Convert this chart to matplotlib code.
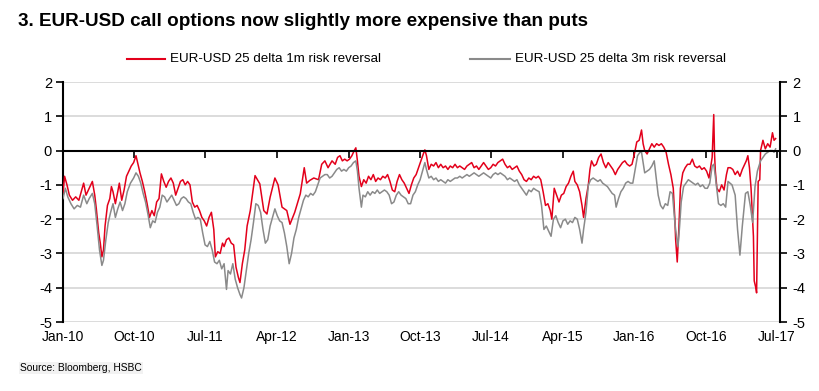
import matplotlib
matplotlib.use("Agg")
import matplotlib.pyplot as plt
import numpy as np
import pandas as pd

# ---- data: (months since Jan 2010, value) ----
rr1m_points = [
    (0.0, -1.25), (0.2, -0.75), (0.5, -1.0), (0.8, -1.3), (1.2, -1.45), (1.6, -1.35), (2.0, -1.45), (2.3, -1.2),
    (2.6, -0.95), (2.9, -1.3), (3.2, -1.15), (3.5, -1.0), (3.7, -0.9), (4.0, -1.3), (4.2, -1.7), (4.5, -2.4),
    (4.7, -2.7), (4.9, -3.1), (5.1, -2.9), (5.3, -2.2), (5.6, -1.6), (5.9, -1.4), (6.1, -1.05), (6.3, -1.2),
    (6.6, -1.55), (6.9, -1.2), (7.1, -0.95), (7.4, -1.45), (7.7, -1.15), (8.0, -0.75), (8.3, -0.6), (8.6, -0.45),
    (8.9, -0.35), (9.2, -0.15), (9.4, -0.35), (9.7, -0.65), (10.0, -0.9), (10.3, -1.2), (10.6, -1.55),
    (10.9, -1.95), (11.2, -1.75), (11.5, -1.9), (11.8, -1.5), (12.1, -1.4), (12.4, -0.68), (12.7, -0.9),
    (13.0, -1.07), (13.3, -0.9), (13.6, -0.8), (13.9, -0.95), (14.2, -1.3), (14.5, -1.1), (14.8, -0.9),
    (15.1, -0.85), (15.4, -1.0), (15.7, -0.9), (16.0, -1.0), (16.3, -1.5), (16.6, -1.65), (16.9, -1.6),
    (17.2, -1.75), (17.5, -1.95), (17.8, -2.05), (18.1, -2.2), (18.4, -1.95), (18.7, -1.8), (19.0, -2.3),
    (19.2, -3.1), (19.5, -2.95), (19.8, -3.0), (20.1, -2.7), (20.3, -2.8), (20.6, -2.6), (20.9, -2.55),
    (21.2, -2.7), (21.5, -2.75), (21.8, -3.4), (22.1, -3.7), (22.3, -3.85), (22.6, -3.3), (22.9, -2.9),
    (23.2, -2.2), (23.6, -1.75), (24.2, -0.73), (24.8, -0.97), (25.3, -1.75), (25.7, -1.85), (26.1, -1.36),
    (26.7, -0.8), (27.1, -1.0), (27.6, -1.65), (28.2, -1.75), (28.6, -2.15), (29.2, -1.8), (29.9, -1.26),
    (30.4, -0.5), (30.7, -0.95), (31.1, -0.87), (31.6, -0.8), (32.2, -0.85), (32.6, -0.4), (33.0, -0.3),
    (33.4, -0.5), (33.9, -0.3), (34.3, -0.4), (34.6, -0.2), (34.9, -0.15), (35.2, -0.3), (35.5, -0.25),
    (35.8, -0.3), (36.1, -0.25), (36.4, -0.15), (36.7, 0.0), (36.9, 0.08), (37.1, -0.3), (37.3, -0.75),
    (37.6, -1.05), (37.9, -0.85), (38.2, -0.95), (38.5, -0.75), (38.8, -0.85), (39.1, -0.7), (39.4, -0.9),
    (39.7, -0.8), (40.0, -0.85), (40.3, -0.75), (40.6, -0.8), (40.9, -0.7), (41.2, -0.9), (41.5, -1.15),
    (41.8, -1.2), (42.1, -0.9), (42.4, -0.7), (42.7, -0.85), (43.0, -0.95), (43.3, -1.1), (43.6, -1.25),
    (43.9, -1.0), (44.2, -0.8), (44.5, -0.7), (44.8, -0.5), (45.1, -0.3), (45.4, -0.1), (45.6, 0.02),
    (45.8, -0.15), (46.1, -0.55), (46.4, -0.4), (46.7, -0.45), (47.0, -0.35), (47.3, -0.5), (47.6, -0.4),
    (47.9, -0.5), (48.2, -0.45), (48.5, -0.55), (48.8, -0.45), (49.1, -0.5), (49.4, -0.4), (49.7, -0.5),
    (50.0, -0.45), (50.3, -0.5), (50.6, -0.55), (50.9, -0.45), (51.2, -0.4), (51.5, -0.35), (51.8, -0.5),
    (52.1, -0.45), (52.4, -0.55), (52.7, -0.45), (53.0, -0.35), (53.3, -0.45), (53.6, -0.55), (53.9, -0.5),
    (54.2, -0.4), (54.5, -0.45), (54.8, -0.35), (55.1, -0.3), (55.4, -0.25), (55.7, -0.4), (56.0, -0.5),
    (56.3, -0.45), (56.6, -0.55), (56.9, -0.5), (57.2, -0.45), (57.5, -0.6), (57.8, -0.7), (58.1, -0.85),
    (58.4, -0.9), (58.7, -0.8), (59.0, -0.85), (59.3, -0.75), (59.6, -0.8), (59.9, -0.75), (60.2, -0.85),
    (60.5, -1.2), (60.8, -1.6), (61.1, -1.55), (61.4, -1.75), (61.6, -2.0), (61.9, -1.1), (62.2, -1.3),
    (62.5, -1.5), (62.8, -1.3), (63.1, -1.25), (63.4, -1.05), (63.7, -0.95), (64.0, -0.75), (64.3, -0.6),
    (64.5, -0.9), (64.8, -1.0), (65.1, -1.2), (65.4, -1.6), (65.6, -1.95), (65.9, -1.4), (66.2, -1.0),
    (66.4, -0.55), (66.6, -0.3), (66.9, -0.45), (67.2, -0.4), (67.5, -0.2), (67.8, -0.1), (68.1, -0.35),
    (68.4, -0.5), (68.7, -0.35), (69.0, -0.45), (69.3, -0.55), (69.6, -0.7), (69.9, -0.55), (70.2, -0.45),
    (70.5, -0.35), (70.8, -0.3), (71.1, -0.4), (71.4, -0.45), (71.7, -0.4), (72.0, -0.1), (72.3, 0.25),
    (72.6, 0.3), (72.9, 0.6), (73.1, 0.2), (73.3, 0.0), (73.6, -0.1), (73.9, 0.05), (74.2, 0.2), (74.5, 0.1),
    (74.8, 0.2), (75.1, 0.15), (75.4, 0.2), (75.7, 0.1), (76.0, -0.05), (76.3, -0.4), (76.6, -0.7),
    (76.9, -1.1), (77.1, -2.0), (77.2, -2.6), (77.4, -3.25), (77.6, -2.3), (77.8, -1.1), (78.1, -0.65),
    (78.4, -0.5), (78.7, -0.4), (79.0, -0.4), (79.3, -0.25), (79.6, -0.45), (79.9, -0.5), (80.2, -0.45),
    (80.5, -0.55), (80.8, -0.5), (81.1, -0.6), (81.4, -0.8), (81.8, -0.2), (82.0, 1.05), (82.1, -0.1),
    (82.2, -0.6), (82.4, -1.1), (82.7, -1.2), (83.0, -1.0), (83.3, -1.15), (83.6, -0.7), (83.8, -0.5),
    (84.1, -0.5), (84.4, -0.55), (84.7, -0.7), (85.0, -0.6), (85.3, -0.75), (85.6, -0.55), (85.9, -0.4),
    (86.1, -0.3), (86.3, -0.15), (86.5, -0.5), (86.7, -1.1), (87.0, -2.5), (87.1, -3.8), (87.3, -4.0),
    (87.4, -4.15), (87.6, -0.9), (87.8, -0.85), (87.9, 0.0), (88.2, 0.3), (88.5, 0.05), (88.8, 0.2),
    (89.1, 0.1), (89.4, 0.52), (89.6, 0.3), (89.8, 0.35),
]

rr3m_points = [
    (0.0, -1.4), (0.3, -1.1), (0.6, -1.35), (1.0, -1.55), (1.4, -1.7), (1.8, -1.6), (2.2, -1.65), (2.6, -1.3),
    (3.0, -1.55), (3.3, -1.4), (3.7, -1.25), (4.0, -1.55), (4.3, -2.2), (4.6, -2.9), (4.9, -3.35), (5.1, -3.2),
    (5.4, -2.6), (5.7, -2.1), (6.0, -1.8), (6.3, -1.55), (6.6, -1.95), (6.9, -1.7), (7.2, -1.5), (7.5, -1.75),
    (7.8, -1.55), (8.1, -1.2), (8.5, -0.95), (8.9, -0.8), (9.2, -0.65), (9.5, -0.75), (9.8, -0.95),
    (10.1, -1.25), (10.4, -1.5), (10.7, -1.85), (11.0, -2.25), (11.3, -2.05), (11.6, -2.1), (11.9, -1.8),
    (12.2, -1.65), (12.5, -1.3), (12.8, -1.35), (13.1, -1.5), (13.4, -1.4), (13.7, -1.3), (14.0, -1.45),
    (14.3, -1.6), (14.6, -1.55), (14.9, -1.4), (15.2, -1.35), (15.5, -1.4), (15.8, -1.5), (16.1, -1.55),
    (16.4, -1.8), (16.7, -2.0), (17.0, -1.95), (17.3, -2.0), (17.6, -2.4), (17.9, -2.75), (18.2, -2.8),
    (18.5, -2.65), (18.8, -2.9), (19.1, -3.25), (19.4, -3.3), (19.7, -3.2), (20.0, -3.45), (20.3, -3.3),
    (20.6, -4.05), (20.8, -3.5), (21.1, -3.6), (21.4, -3.3), (21.7, -3.75), (22.0, -4.0), (22.3, -4.2),
    (22.5, -4.3), (22.8, -4.0), (23.1, -3.5), (23.4, -3.0), (23.7, -2.6), (24.0, -2.1), (24.3, -1.55),
    (24.6, -1.6), (24.9, -1.8), (25.2, -2.3), (25.5, -2.7), (25.8, -2.6), (26.1, -2.2), (26.4, -1.95),
    (26.7, -1.7), (27.0, -1.9), (27.3, -2.05), (27.6, -2.1), (27.9, -2.4), (28.2, -2.8), (28.5, -3.3),
    (28.8, -3.0), (29.1, -2.55), (29.4, -2.3), (29.7, -1.95), (30.0, -1.7), (30.3, -1.45), (30.6, -1.3),
    (30.9, -1.35), (31.2, -1.25), (31.5, -1.3), (31.8, -1.2), (32.1, -1.0), (32.4, -0.8), (32.7, -0.75),
    (33.0, -0.7), (33.3, -0.7), (33.6, -0.8), (33.9, -0.75), (34.2, -0.65), (34.5, -0.55), (34.8, -0.5),
    (35.1, -0.6), (35.4, -0.55), (35.7, -0.6), (36.0, -0.5), (36.3, -0.45), (36.6, -0.35), (36.9, -0.3),
    (37.1, -0.6), (37.3, -1.1), (37.6, -1.65), (37.8, -1.3), (38.1, -1.35), (38.4, -1.2), (38.7, -1.3),
    (39.0, -1.2), (39.3, -1.25), (39.6, -1.15), (39.9, -1.25), (40.2, -1.2), (40.5, -1.15), (40.8, -1.2),
    (41.1, -1.3), (41.4, -1.55), (41.7, -1.5), (42.0, -1.3), (42.3, -1.2), (42.6, -1.3), (42.9, -1.35),
    (43.2, -1.4), (43.5, -1.55), (43.8, -1.55), (44.1, -1.3), (44.4, -1.2), (44.7, -1.0), (45.0, -0.85),
    (45.3, -0.6), (45.6, -0.35), (45.8, -0.55), (46.1, -0.8), (46.4, -0.75), (46.7, -0.85), (47.0, -0.8),
    (47.3, -0.9), (47.6, -0.85), (47.9, -0.9), (48.2, -0.95), (48.5, -0.85), (48.8, -0.9), (49.1, -0.85),
    (49.4, -0.8), (49.7, -0.8), (50.0, -0.75), (50.3, -0.8), (50.6, -0.75), (50.9, -0.7), (51.2, -0.75),
    (51.5, -0.7), (51.8, -0.65), (52.1, -0.7), (52.4, -0.75), (52.7, -0.7), (53.0, -0.65), (53.3, -0.7),
    (53.6, -0.75), (53.9, -0.8), (54.2, -0.7), (54.5, -0.65), (54.8, -0.7), (55.1, -0.65), (55.4, -0.7),
    (55.7, -0.75), (56.0, -0.85), (56.3, -0.8), (56.6, -0.85), (56.9, -0.9), (57.2, -0.85), (57.5, -1.0),
    (57.8, -1.1), (58.1, -1.2), (58.4, -1.3), (58.7, -1.15), (59.0, -1.2), (59.3, -1.1), (59.6, -1.15),
    (60.0, -1.2), (60.3, -1.6), (60.6, -2.3), (60.9, -2.2), (61.2, -2.35), (61.5, -2.5), (61.8, -2.0),
    (62.1, -1.9), (62.4, -2.1), (62.7, -2.25), (63.0, -2.05), (63.3, -2.0), (63.6, -2.15), (63.9, -2.05),
    (64.2, -2.1), (64.5, -1.95), (64.8, -2.0), (65.1, -2.3), (65.4, -2.7), (65.6, -2.3), (65.9, -1.8),
    (66.2, -1.0), (66.5, -0.85), (66.8, -0.8), (67.1, -0.85), (67.4, -0.9), (67.7, -0.85), (68.0, -0.95),
    (68.3, -1.0), (68.6, -1.05), (68.9, -1.15), (69.2, -1.25), (69.5, -1.3), (69.7, -1.65), (70.0, -1.4),
    (70.3, -1.2), (70.6, -1.1), (70.9, -0.95), (71.2, -0.9), (71.5, -0.95), (71.8, -0.95), (72.1, -0.55),
    (72.4, -0.15), (72.7, -0.05), (72.9, -0.05), (73.1, -0.35), (73.3, -0.65), (73.6, -0.6), (73.9, -0.55),
    (74.2, -0.45), (74.5, -0.3), (74.8, -0.9), (75.0, -1.3), (75.3, -1.6), (75.6, -1.7), (75.9, -1.55),
    (76.2, -1.6), (76.5, -1.2), (76.8, -1.25), (77.1, -2.1), (77.3, -2.5), (77.5, -2.8), (77.7, -2.2),
    (77.9, -1.5), (78.2, -1.05), (78.5, -0.95), (78.8, -0.85), (79.1, -0.9), (79.4, -0.95), (79.7, -1.0),
    (80.0, -0.95), (80.3, -1.05), (80.6, -1.0), (80.9, -1.1), (81.2, -1.1), (81.5, -0.95), (81.8, -0.45),
    (82.0, -0.4), (82.2, -0.75), (82.6, -1.55), (82.9, -1.6), (83.2, -1.55), (83.5, -1.65), (83.8, -0.9),
    (84.3, -1.0), (84.7, -1.3), (85.0, -2.3), (85.3, -3.05), (85.6, -2.2), (86.0, -1.25), (86.3, -1.2),
    (86.6, -1.6), (86.9, -2.1), (87.2, -1.05), (87.5, -0.6), (87.9, -0.3), (88.2, -0.2), (88.5, -0.1),
    (88.8, -0.05), (89.1, 0.0), (89.4, 0.0), (89.6, -0.05), (89.8, 0.05),
]

tick_labels = ["Jan-10", "Oct-10", "Jul-11", "Apr-12", "Jan-13", "Oct-13", "Jul-14", "Apr-15", "Jan-16", "Oct-16", "Jul-17"]
y_ticks = [-5, -4, -3, -2, -1, 0, 1, 2]
title = "3. EUR-USD call options now slightly more expensive than puts"
label_1m = "EUR-USD 25 delta 1m risk reversal"
label_3m = "EUR-USD 25 delta 3m risk reversal"
source = "Source: Bloomberg, HSBC"

# ---- helpers ----
start = pd.Timestamp("2010-01-01")
def to_series(points):
    m = np.array([p[0] for p in points])
    v = np.array([p[1] for p in points])
    return start + pd.to_timedelta(m * 30.4375, unit="D"), v

d1, v1 = to_series(rr1m_points)
d3, v3 = to_series(rr3m_points)
tick_dates = pd.to_datetime(tick_labels, format="%b-%y")

plt.rcParams['font.family'] = ['Liberation Sans', 'DejaVu Sans']
plt.rcParams['axes.unicode_minus'] = False

RED = "#e3001b"
GREY = "#8a8a8a"

fig = plt.figure(figsize=(8.2, 3.91), dpi=100)
ax = fig.add_axes([63/820, 69/391, 717/820, 240/391])

ax.plot(d1, v1, color=RED, lw=1.1, zorder=3)
ax.plot(d3, v3, color=GREY, lw=1.1, zorder=4)

ymin, ymax = -5, 2
ax.set_ylim(ymin, ymax)
ax.set_xlim(tick_dates[0], tick_dates[-1] + pd.Timedelta(days=12))
ax.set_yticks(y_ticks)
for y in y_ticks:
    if y != 0:
        ax.axhline(y, color="#d9d9d9", lw=1.3, zorder=1)
ax.axhline(0, color="black", lw=1.5, zorder=5)

ax.set_xticks(tick_dates)
ax.set_xticklabels(tick_labels, fontsize=10)
ax.tick_params(axis="x", length=0, pad=6)
ax.tick_params(axis="y", direction="out", length=5, width=1.2, labelsize=10.5, pad=3)
for s in ["top", "right", "bottom"]:
    ax.spines[s].set_visible(False)
ax.spines["left"].set_linewidth(1.5)

# zero-line ticks pointing upwards
sec = ax.secondary_xaxis((0 - ymin) / (ymax - ymin))
sec.set_xticks(tick_dates)
sec.tick_params(axis="x", direction="in", length=5, width=1.2, labelbottom=False, labeltop=False)
sec.spines["bottom"].set_visible(False)
sec.spines["top"].set_visible(False)
sec.set_xticklabels([])

ax2 = ax.twinx()
ax2.set_ylim(ymin, ymax)
ax2.set_yticks(y_ticks)
ax2.tick_params(axis="y", direction="out", length=5, width=1.2, labelsize=10.5, pad=4)
for s in ["top", "left", "bottom"]:
    ax2.spines[s].set_visible(False)
ax2.spines["right"].set_linewidth(1.5)

fig.text(18/820, 1 - 22/391, title, fontsize=13.6, fontweight="bold", va="center", ha="left")

# legend
fig.lines.append(plt.Line2D([127/820, 165/820], [1 - 59/391] * 2, color=RED, lw=1.5, transform=fig.transFigure))
fig.text(170/820, 1 - 59/391, label_1m, fontsize=9.6, va="center", ha="left")
fig.lines.append(plt.Line2D([470/820, 510/820], [1 - 59/391] * 2, color=GREY, lw=1.5, transform=fig.transFigure))
fig.text(515/820, 1 - 59/391, label_3m, fontsize=9.6, va="center", ha="left")

fig.text(20/820, 1 - 368/391, source, fontsize=7.4, va="center", ha="left",
         bbox=dict(facecolor="#f2f2f2", edgecolor="none", pad=1))

fig.savefig("out.png", dpi=100)
